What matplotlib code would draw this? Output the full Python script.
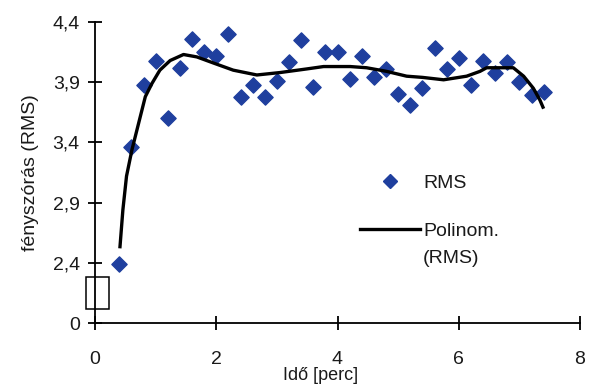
import numpy as np
import matplotlib.pyplot as plt
from matplotlib.lines import Line2D
from matplotlib.patches import Rectangle

plt.rcParams['font.family'] = ['Liberation Sans', 'DejaVu Sans']

# measured RMS values (time in minutes)
ido = [0.4, 0.6, 0.8, 1.0, 1.2, 1.4, 1.6, 1.8, 2.0, 2.2, 2.4, 2.6,
       2.8, 3.0, 3.2, 3.4, 3.6, 3.8, 4.0, 4.2, 4.4, 4.6, 4.8, 5.0,
       5.2, 5.4, 5.6, 5.8, 6.0, 6.2, 6.4, 6.6, 6.8, 7.0, 7.2, 7.4]
rms = [2.39, 3.36, 3.88, 4.08, 3.60, 4.02, 4.26, 4.15, 4.12, 4.30, 3.78, 3.88,
       3.78, 3.91, 4.07, 4.25, 3.86, 4.15, 4.15, 3.93, 4.12, 3.94, 4.01, 3.80,
       3.71, 3.85, 4.18, 4.01, 4.10, 3.88, 4.08, 3.98, 4.07, 3.90, 3.79, 3.82]

# polynomial trendline
trend_x = [0.41, 0.46, 0.52, 0.61, 0.72, 0.83, 0.94, 1.07, 1.24, 1.46, 1.68, 1.95,
           2.28, 2.67, 3.05, 3.49, 3.77, 4.21, 4.48, 4.81, 5.14, 5.40, 5.75, 6.13,
           6.35, 6.46, 6.90, 7.07, 7.23, 7.34, 7.40]
trend_y = [2.52, 2.84, 3.12, 3.34, 3.56, 3.78, 3.89, 4.00, 4.08, 4.13, 4.11, 4.06,
           4.00, 3.96, 3.98, 4.01, 4.03, 4.03, 4.02, 3.99, 3.95, 3.94, 3.92, 3.95,
           3.99, 4.02, 4.02, 3.95, 3.85, 3.75, 3.68]

# broken y axis: the bottom position stands for 0
ytick_pos = [1.9, 2.4, 2.9, 3.4, 3.9, 4.4]
ytick_lab = ['0', '2,4', '2,9', '3,4', '3,9', '4,4']
xticks = [0, 2, 4, 6, 8]

W, H = 589, 388
fig = plt.figure(figsize=(W / 100, H / 100), dpi=100)
ax = fig.add_axes([95 / W, 1 - 323 / H, 485 / W, 301 / H])

blue = '#1f3f9e'
txt = '#1a1a1a'
fs = 14

ax.scatter(ido, rms, marker='D', s=60, color=blue, zorder=3, clip_on=False)
ax.plot(trend_x, trend_y, color='black', lw=2.4, zorder=4, solid_capstyle='butt')

ax.set_xlim(0, 8)
ax.set_ylim(1.9, 4.4)
ax.set_xticks(xticks)
ax.set_xticklabels([str(v) for v in xticks])
ax.set_yticks(ytick_pos)
ax.set_yticklabels(ytick_lab)

for s in ['top', 'right']:
    ax.spines[s].set_visible(False)
for s in ['left', 'bottom']:
    ax.spines[s].set_linewidth(1.3)
ax.tick_params(direction='inout', length=10, width=1.3, labelsize=fs, labelcolor=txt)
ax.tick_params(axis='x', pad=15)
ax.tick_params(axis='y', pad=6)

# axis-break box
ax.add_patch(Rectangle((-0.15, 2.02), 0.38, 0.26, fill=False, ec='black', lw=1.1,
                       clip_on=False, zorder=5))

ax.set_ylabel('fényszórás (RMS)', fontsize=fs, color=txt)
ax.yaxis.set_label_coords(-0.115, 0.5)
ax.set_xlabel('Idő [perc]', fontsize=13, color=txt)
ax.xaxis.set_label_coords(0.466, -0.145)

h1 = Line2D([], [], marker='D', ls='none', color=blue, markersize=7.5)
leg1 = fig.legend([h1], ['RMS'], loc='upper left', bbox_to_anchor=(360 / W, 1 - 174 / H),
                  frameon=False, fontsize=fs, handlelength=3.1, handletextpad=0.15,
                  borderpad=0, borderaxespad=0)
h2 = Line2D([], [], color='black', lw=2.4)
h3 = Line2D([], [], ls='none')
leg2 = fig.legend([h2, h3], ['Polinom.', '(RMS)'], loc='upper left',
                  bbox_to_anchor=(360 / W, 1 - 222 / H), frameon=False, fontsize=fs,
                  handlelength=3.1, handletextpad=0.15, borderpad=0, borderaxespad=0,
                  labelspacing=0.5)
for lg in (leg1, leg2):
    for t in lg.get_texts():
        t.set_color(txt)

fig.savefig('out.png', dpi=100)
